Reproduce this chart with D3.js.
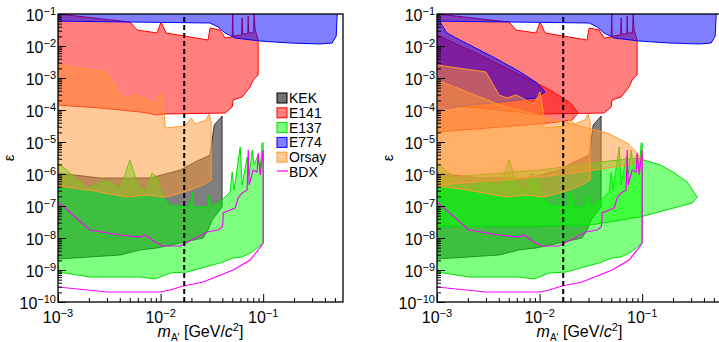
<!DOCTYPE html>
<html>
<head>
<meta charset="utf-8">
<script src="https://cdn.jsdelivr.net/npm/d3@7"></script>
<style>
  body { margin: 0; background: #fff; }
  svg { display: block; font-family: "Liberation Sans", Arial, sans-serif; }
</style>
</head>
<body>
<svg id="chart" width="719" height="342"></svg>
<script>
// axis ranges and ticks
const massDomain = [1e-3, 0.6];
const epsDomain = [1e-10, 1e-1];
const xMajor = [1e-3, 1e-2, 1e-1];
const yMajor = [1e-10, 1e-9, 1e-8, 1e-7, 1e-6, 1e-5, 1e-4, 1e-3, 1e-2, 1e-1];
const x17Mass = 0.017;
const x17Eps = [1e-10, 0.08];
const legendNames = ["KEK", "E141", "E137", "E774", "Orsay", "BDX"];

// excluded regions, [mass GeV, epsilon]
const kekRegion = [[1e-3,1.07e-6],[2.57e-3,7.5e-7],[7.91e-3,7.5e-7],[0.0155,1.33e-6],[0.0217,2.37e-6],[0.0304,3.93e-6],[0.0333,3.4e-5],[0.0398,6.5e-5],[0.0398,9.3e-8],[0.0318,3.65e-8],[0.029,1.78e-8],[0.026,1e-8],[0.0155,6.98e-9],[9.25e-3,4.87e-9],[6.31e-3,4.22e-9],[4.03e-3,2.94e-9],[2.05e-3,2.55e-9],[1e-3,2.2e-9]];

const e141Region = [[1e-3,0.1],[5.03e-3,0.0562],[5.9e-3,0.0316],[9.25e-3,0.0255],[0.0101,0.0562],[0.0113,0.0255],[0.029,0.0154],[0.0304,0.0365],[0.038,0.0316],[0.0426,0.0178],[0.0499,0.0191],[0.0505,0.1],[0.051,0.0204],[0.0615,0.022],[0.0624,0.075],[0.0632,0.0237],[0.0708,0.024],[0.0715,0.0866],[0.0722,0.0255],[0.0805,0.026],[0.0817,0.1],[0.0835,0.0316],[0.0893,0.0154],[0.0893,1.24e-3],[0.0798,8.66e-4],[0.0746,5.25e-4],[0.0624,2.55e-4],[0.0509,2.05e-4],[0.0499,1.24e-4],[0.0426,8.05e-5],[0.01107,7.5e-5],[9.25e-3,6.98e-5],[6.31e-3,8.66e-5],[2.57e-3,1.155e-4],[1e-3,1.43e-4]];

const e137Region = [[1e-3,2.21e-6],[1.96e-3,3.65e-7],[3.0e-3,6.5e-7],[4.03e-3,3.65e-7],[5.03e-3,2.74e-6],[5.9e-3,5.62e-7],[7.07e-3,2.74e-7],[8.26e-3,1.07e-6],[9.25e-3,8.05e-7],[0.01057,1.91e-7],[0.01239,1.07e-7],[0.0194,9.3e-8],[0.0203,2.74e-7],[0.0212,9.3e-8],[0.0284,9.3e-8],[0.0297,2.21e-7],[0.031,9.3e-8],[0.0398,1.54e-7],[0.0476,2.74e-7],[0.0499,1.155e-6],[0.0521,3.16e-7],[0.0597,6.98e-6],[0.0624,4.53e-7],[0.0698,3.4e-6],[0.073,9.3e-7],[0.0782,5.62e-6],[0.0817,1.91e-6],[0.0893,3.93e-6],[0.0935,1.33e-6],[0.0977,9.3e-6],[0.1,9.3e-6],[0.1,6.98e-9],[0.0873,4.87e-9],[0.0782,3.65e-9],[0.0624,2.55e-9],[0.0509,2.37e-9],[0.038,1.66e-9],[0.01816,8.66e-10],[0.01239,8.05e-10],[9.89e-3,6.03e-10],[8.83e-3,5.25e-10],[6.31e-3,6.03e-10],[2.05e-3,6.03e-10],[1e-3,8.66e-10]];

const e774Region = [[1e-3,0.2],[1e-3,0.06],[0.0304,0.0523],[0.0364,0.0393],[0.0426,0.0255],[0.0533,0.0178],[0.0935,0.0143],[0.183,0.0124],[0.36,0.01155],[0.471,0.0124],[0.515,0.0205],[0.527,0.1],[0.53,0.2]];

const orsayRegion = [[1e-3,2.55e-3],[3.0e-3,1.54e-3],[4.03e-3,2.95e-4],[4.82e-3,2.37e-4],[5.9e-3,2.95e-4],[7.38e-3,2.05e-4],[8.83e-3,1.54e-4],[0.0101,3.65e-4],[0.0108,1e-4],[0.01107,2.74e-5],[0.01734,3.16e-5],[0.0199,5.62e-5],[0.0217,3.65e-5],[0.0278,4.87e-5],[0.0297,7.5e-5],[0.0311,4.22e-5],[0.0311,6.5e-7],[0.0272,4.87e-7],[0.0194,3.16e-7],[0.01239,2.05e-7],[0.01057,1.91e-7],[7.38e-3,2.21e-7],[4.71e-3,1.91e-7],[1.96e-3,3.16e-7],[1e-3,4.22e-7]];

const bdxContour = [[1e-3,1.33e-7],[2.05e-3,1.78e-8],[4.03e-3,1.24e-8],[6.31e-3,1.07e-8],[7.07e-3,1.24e-8],[8.83e-3,7.5e-9],[0.01057,5.62e-9],[0.0155,5.62e-9],[0.0284,1.54e-8],[0.0364,1.78e-8],[0.0398,2.21e-8],[0.0407,3.65e-8],[0.0407,6.04e-8],[0.0533,8.66e-8],[0.057,1.78e-7],[0.0624,2.55e-7],[0.0698,3.16e-7],[0.0715,5.62e-6],[0.073,4.53e-7],[0.0798,1.33e-6],[0.0873,1.155e-6],[0.0893,4.53e-6],[0.0935,9.3e-7],[0.1,5.62e-6],[0.1,6.98e-9],[0.0893,4.22e-9],[0.0746,2.05e-9],[0.0509,1e-9],[0.0325,5.62e-10],[0.026,4.22e-10],[0.0166,3.16e-10],[0.01239,2.37e-10],[9.89e-3,2.05e-10],[3.0e-3,2.05e-10],[1e-3,2.94e-10]];

// extra lobes shown only in the right panel
const e141Lobe = [[1e-3,0.0221],[2.63e-3,5.23e-3],[6.46e-3,1.24e-3],[0.01265,4.22e-4],[0.0199,1.66e-4],[0.0238,8.05e-5],[0.0207,4.87e-5],[0.01265,3.93e-5],[4.12e-3,2.94e-5],[1e-3,2.05e-5]];
const e137Lobe = [[1e-3,7.5e-7],[0.0101,1.33e-6],[0.0389,2.37e-6],[0.0893,3.16e-6],[0.15,1.91e-6],[0.2,1.155e-6],[0.275,5.62e-7],[0.344,1.91e-7],[0.308,1.24e-7],[0.0955,4.53e-8],[0.0311,2.55e-8],[0.0101,2.37e-8],[1e-3,2.37e-8]];
const e774Lobe = [[1e-3,0.06],[1.07e-3,0.0562],[1.25e-3,0.0255],[1.67e-3,0.0154],[3.52e-3,4.53e-3],[6.46e-3,1.54e-3],[9.46e-3,6.98e-4],[0.0113,3.65e-4],[9.04e-3,2.37e-4],[4.12e-3,1.78e-4],[2.1e-3,1.43e-4],[1e-3,1e-4]];
const orsayLobe = [[1e-3,8.66e-4],[4.12e-3,1.43e-4],[0.0185,3.93e-5],[0.0456,1.91e-5],[0.0715,9.3e-6],[0.0893,4.53e-6],[0.0977,2.74e-6],[0.0764,1.91e-6],[0.0456,1.54e-6],[0.0212,1.07e-6],[0.0101,8.05e-7],[1e-3,4.53e-7]];

const layers = [
  { name: "KEK",   main: kekRegion,   lobe: null,      fill: "#000000", stroke: "#000000" },
  { name: "E141",  main: e141Region,  lobe: e141Lobe,  fill: "#ff0000", stroke: "#ff0000" },
  { name: "E137",  main: e137Region,  lobe: e137Lobe,  fill: "#00ff00", stroke: "#00e000" },
  { name: "E774",  main: e774Region,  lobe: e774Lobe,  fill: "#0000ff", stroke: "#0000ff" },
  { name: "Orsay", main: orsayRegion, lobe: orsayLobe, fill: "#ff9632", stroke: "#ff9a30" }
];
const bdxColor = "#ff00ff";

const svg = d3.select("#chart");
const plotW = 285, plotTop = 14, plotBottom = 302;
const panels = [{ x0: 58, extras: false }, { x0: 437, extras: true }];

function powerLabel(sel, v, size, expSize) {
  const e = Math.round(Math.log10(v));
  sel.append("tspan").attr("font-size", size).text("10");
  sel.append("tspan").attr("font-size", expSize).attr("dy", -6).text("\u2212" + Math.abs(e));
}

panels.forEach((p, i) => {
  const x = d3.scaleLog().domain(massDomain).range([p.x0, p.x0 + plotW]);
  const y = d3.scaleLog().domain(epsDomain).range([plotBottom, plotTop]);
  const line = d3.line().x(d => x(d[0])).y(d => y(d[1]));

  svg.append("clipPath").attr("id", "clip" + i)
    .append("rect").attr("x", p.x0).attr("y", plotTop).attr("width", plotW).attr("height", plotBottom - plotTop);

  const plot = svg.append("g").attr("clip-path", "url(#clip" + i + ")");

  layers.forEach(l => {
    const shapes = [l.main];
    if (p.extras && l.lobe) shapes.push(l.lobe);
    shapes.forEach(s => {
      plot.append("path")
        .attr("d", line(s) + "Z")
        .attr("fill", l.fill)
        .attr("fill-opacity", 0.5)
        .attr("stroke", l.stroke)
        .attr("stroke-opacity", l.name === "KEK" ? 0.7 : 1)
        .attr("stroke-width", 1);
    });
  });

  plot.append("path")
    .attr("d", line(bdxContour))
    .attr("fill", "none")
    .attr("stroke", bdxColor)
    .attr("stroke-width", 1.2);

  plot.append("line")
    .attr("x1", x(x17Mass)).attr("x2", x(x17Mass))
    .attr("y1", y(x17Eps[0])).attr("y2", y(x17Eps[1]))
    .attr("stroke", "#000").attr("stroke-width", 2)
    .attr("stroke-dasharray", "5,3");

  // axes: ticks pointing into the frame
  const xMinor = [];
  const yMinor = [];
  xMajor.concat([1]).forEach(d => { for (let k = 2; k <= 9; k++) if (d * k <= massDomain[1]) xMinor.push(d * k); });
  yMajor.slice(0, -1).forEach(d => { for (let k = 2; k <= 9; k++) yMinor.push(d * k); });

  const gx = svg.append("g").attr("transform", "translate(0," + plotBottom + ")");
  gx.call(d3.axisBottom(x).tickValues(xMajor).tickSize(-8).tickFormat(""));
  gx.append("g").call(d3.axisBottom(x).tickValues(xMinor).tickSize(-4).tickFormat(""));
  const gy = svg.append("g").attr("transform", "translate(" + p.x0 + ",0)");
  gy.call(d3.axisLeft(y).tickValues(yMajor).tickSize(-8).tickFormat(""));
  gy.append("g").call(d3.axisLeft(y).tickValues(yMinor).tickSize(-4).tickFormat(""));
  svg.selectAll(".domain").remove();
  svg.selectAll(".tick line").attr("stroke", "#000").attr("stroke-width", 1);

  svg.append("rect")
    .attr("x", p.x0).attr("y", plotTop).attr("width", plotW).attr("height", plotBottom - plotTop)
    .attr("fill", "none").attr("stroke", "#000").attr("stroke-width", 1.3);

  xMajor.forEach(v => {
    const t = svg.append("text").attr("x", x(v)).attr("y", 323).attr("text-anchor", "middle");
    powerLabel(t, v, 16, 11);
  });
  yMajor.forEach(v => {
    const t = svg.append("text").attr("x", p.x0 - 2).attr("y", y(v) + 7).attr("text-anchor", "end");
    powerLabel(t, v, 16, 11);
  });

  const xt = svg.append("text").attr("x", p.x0 + plotW / 2).attr("y", 337)
    .attr("text-anchor", "middle").attr("font-size", 16);
  xt.append("tspan").attr("font-style", "italic").text("m");
  xt.append("tspan").attr("font-size", 10).attr("dy", 4).text("A'");
  xt.append("tspan").attr("dy", -4).text(" [GeV/");
  xt.append("tspan").attr("font-style", "italic").text("c");
  xt.append("tspan").attr("font-size", 11).attr("dy", -6).text("2");
  xt.append("tspan").attr("dy", 6).text("]");

  svg.append("text")
    .attr("transform", "translate(" + (p.x0 - 44) + "," + ((plotTop + plotBottom) / 2) + ") rotate(-90)")
    .attr("text-anchor", "middle").attr("font-size", 15).text("\u03b5");

  if (i === 0) {
    const lg = svg.append("g").attr("font-size", 14);
    legendNames.forEach((n, k) => {
      const cy = 98 + k * 14.8;
      const layer = layers.find(l => l.name === n);
      if (layer) {
        lg.append("rect").attr("x", 277).attr("y", cy - 5).attr("width", 10).attr("height", 10)
          .attr("fill", layer.fill).attr("fill-opacity", n === "KEK" ? 0.55 : 0.5)
          .attr("stroke", layer.stroke).attr("stroke-width", 1);
      } else {
        lg.append("line").attr("x1", 277).attr("x2", 288).attr("y1", cy - 1).attr("y2", cy - 1)
          .attr("stroke", bdxColor).attr("stroke-width", 1.2);
      }
      lg.append("text").attr("x", 289).attr("y", cy + 5).text(n);
    });
  }
});
</script>
</body>
</html>
